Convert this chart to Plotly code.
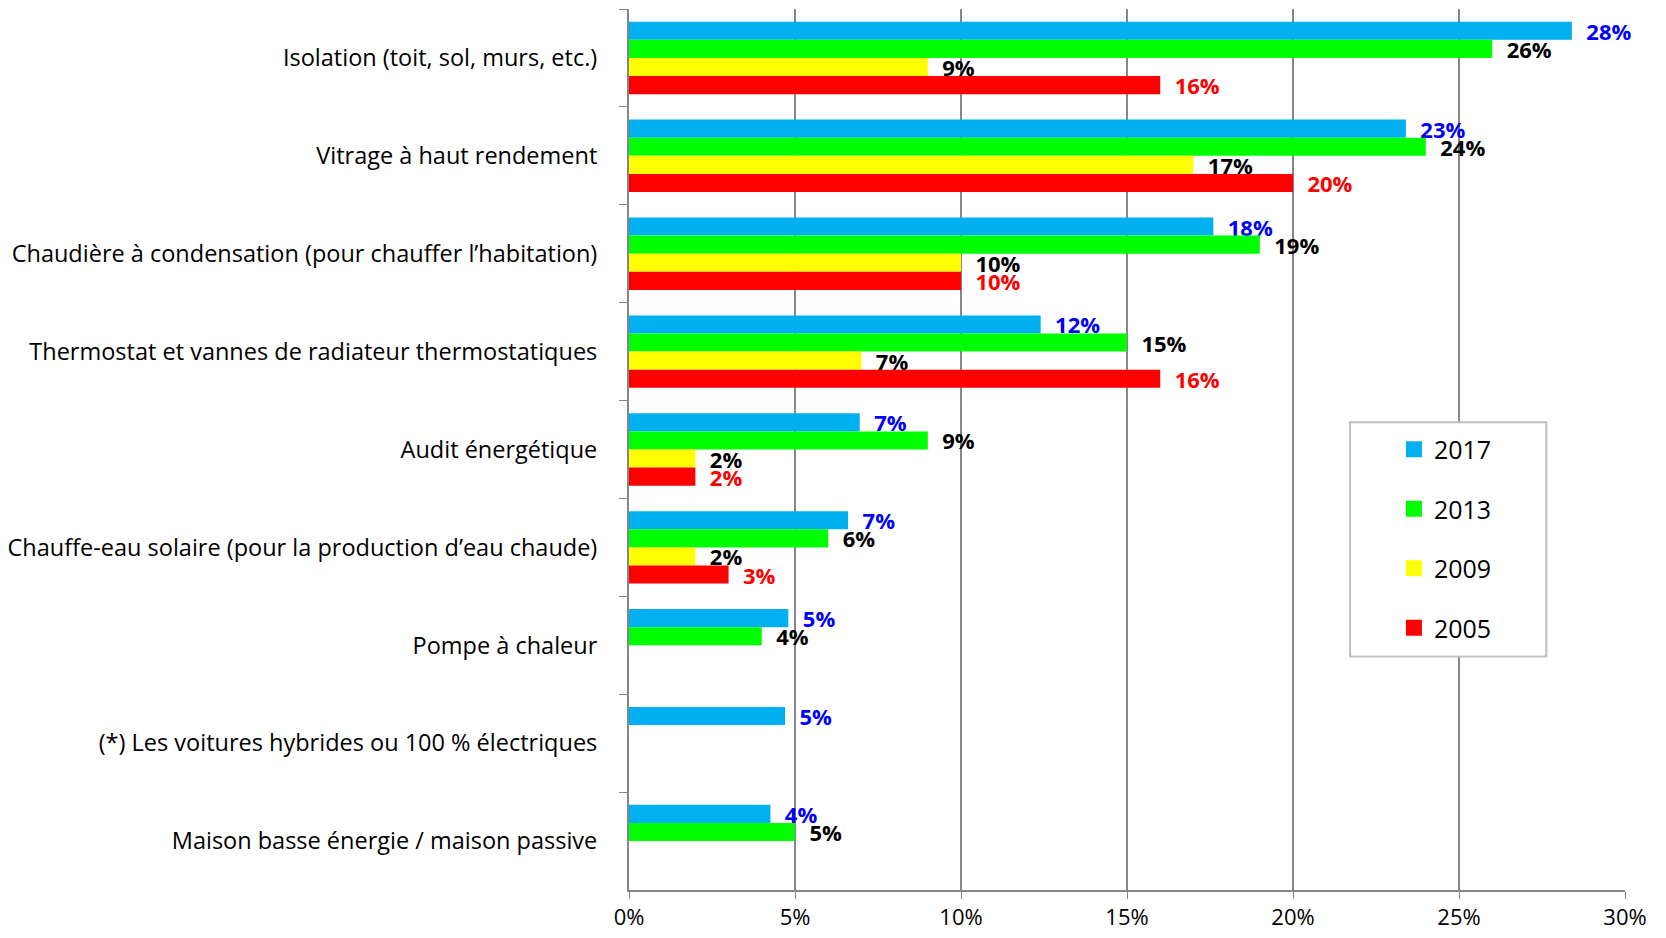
import plotly.graph_objects as go

categories = [
    "Isolation (toit, sol, murs, etc.)",
    "Vitrage à haut rendement",
    "Chaudière à condensation (pour chauffer l’habitation)",
    "Thermostat et vannes de radiateur thermostatiques",
    "Audit énergétique",
    "Chauffe-eau solaire (pour la production d’eau chaude)",
    "Pompe à chaleur",
    "(*) Les voitures hybrides ou 100 % électriques",
    "Maison basse énergie / maison passive",
]

v2017 = [28.4, 23.4, 17.6, 12.4, 6.95, 6.6, 4.8, 4.7, 4.26]
v2013 = [26, 24, 19, 15, 9, 6, 4, None, 5]
v2009 = [9, 17, 10, 7, 2, 2, None, None, None]
v2005 = [16, 20, 10, 16, 2, 3, None, None, None]

series = [
    ("2017", v2017, "#00B0F0", "#0000FF"),
    ("2013", v2013, "#00FF00", "#000000"),
    ("2009", v2009, "#FFFF00", "#000000"),
    ("2005", v2005, "#FF0000", "#FF0000"),
]

FONT = "Open Sans"

fig = go.Figure()
for name, vals, color, tcolor in series:
    fig.add_trace(
        go.Bar(
            x=vals,
            y=categories,
            orientation="h",
            name=name,
            showlegend=False,
            marker=dict(color=color, line=dict(width=0)),
            texttemplate="\u00a0\u00a0%{x:.0f}%",
            textposition="outside",
            textfont=dict(family=FONT, size=22, color=tcolor, weight="bold"),
            constraintext="none",
            cliponaxis=False,
        )
    )

# legend entries with larger square swatches
for name, vals, color, tcolor in series:
    fig.add_trace(
        go.Scatter(
            x=[None],
            y=[None],
            mode="markers",
            name=name,
            legendgroup=name,
            marker=dict(symbol="square", size=16, color=color),
        )
    )

fig.update_layout(
    width=1650,
    height=922,
    plot_bgcolor="white",
    paper_bgcolor="white",
    barmode="group",
    bargap=0.26,
    bargroupgap=0,
    font=dict(family=FONT, size=20, color="#000000"),
    margin=dict(l=621, r=33, t=1, b=40),
    showlegend=True,
    legend=dict(
        x=0.768,
        y=0.526,
        xanchor="left",
        yanchor="top",
        bgcolor="rgba(0,0,0,0)",
        borderwidth=0,
        traceorder="grouped",
        tracegroupgap=24,
        font=dict(family=FONT, size=25),
    ),
    xaxis=dict(
        range=[0, 30],
        dtick=5,
        ticksuffix="%",
        showgrid=True,
        gridcolor="#868686",
        gridwidth=1.5,
        showline=True,
        linecolor="#868686",
        linewidth=2,
        ticks="outside",
        ticklen=7,
        tickcolor="#868686",
        zeroline=False,
        automargin=False,
        ticklabelstandoff=0,
        tickfont=dict(family=FONT, size=22),
    ),
    yaxis=dict(
        autorange="reversed",
        showline=True,
        linecolor="#868686",
        linewidth=2,
        ticks="outside",
        tickson="boundaries",
        ticklen=8,
        tickcolor="#868686",
        showgrid=False,
        automargin=False,
        ticklabelstandoff=25,
        tickfont=dict(family=FONT, size=23.5),
    ),
    shapes=[
        dict(
            type="rect",
            xref="paper",
            yref="paper",
            x0=0.724,
            x1=0.921,
            y0=0.265,
            y1=0.531,
            fillcolor="white",
            line=dict(color="#BFBFBF", width=2),
            layer="above",
        )
    ],
)

fig.write_html("out.html")
